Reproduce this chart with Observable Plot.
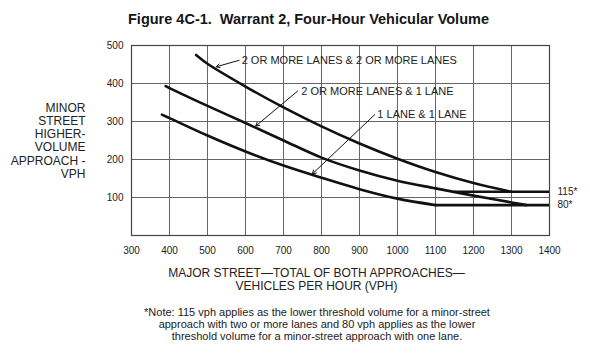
<!DOCTYPE html>
<html>
<head>
<meta charset="utf-8">
<script src="https://cdn.jsdelivr.net/npm/d3@7"></script>
<script src="https://cdn.jsdelivr.net/npm/@observablehq/plot@0.6"></script>
<style>
  html, body { margin: 0; padding: 0; background: #fff; }
  body { width: 590px; height: 358px; position: relative; overflow: hidden; font-family: "Liberation Sans", Arial, sans-serif; color: #111; }
  #title { position: absolute; left: 0; width: 617px; top: 11px; text-align: center; font-weight: bold; font-size: 14.5px; line-height: 16px; color: #151515; }
  #chart { position: absolute; left: 0; top: 35px; }
  #note { position: absolute; left: 67px; width: 500px; top: 306px; text-align: center; font-size: 11px; line-height: 12.2px; color: #222; }
</style>
</head>
<body>
<div id="title">Figure 4C-1.&nbsp; Warrant 2, Four-Hour Vehicular Volume</div>
<div id="chart"></div>
<div id="note">*Note: 115 vph applies as the lower threshold volume for a minor-street<br>approach with two or more lanes and 80 vph applies as the lower<br>threshold volume for a minor-street approach with one lane.</div>
<script>
// ---- data ----
const xTicks = [300, 400, 500, 600, 700, 800, 900, 1000, 1100, 1200, 1300, 1400];
const yTicks = [100, 200, 300, 400, 500];
const yGrid = [0, 100, 200, 300, 400, 500];

// curved parts
const seriesNames = ["2 OR MORE LANES & 2 OR MORE LANES", "2 OR MORE LANES & 1 LANE", "1 LANE & 1 LANE"];

const majorTop = [470, 500, 600, 700, 800, 900, 1000, 1100, 1200, 1300];
const minorTop = [475, 452, 392, 337, 287, 242, 202, 167, 138, 115];

const majorMid = [390, 400, 500, 600, 700, 800, 900, 1000, 1100, 1200, 1300, 1340];
const minorMid = [393, 388, 341, 296, 250, 205, 171, 144, 124, 105, 87, 80];

const majorLow = [380, 400, 500, 600, 700, 800, 900, 1000, 1100];
const minorLow = [318, 309, 263, 221, 184, 152, 122, 97, 80];

// flat threshold lines
const thresholdNames = ["115 vph", "80 vph"];
const thresholdStart = [1150, 1100];
const thresholdEnd = [1400, 1400];
const thresholdValues = [115, 80];
const thresholdLabels = ["115*", "80*"];

// curve labels and their leader arrows (data coordinates)
const labelText = ["2 OR MORE LANES & 2 OR MORE LANES", "2 OR MORE LANES & 1 LANE", "1 LANE & 1 LANE"];
const labelX = [590, 747, 947];
const labelY = [461, 380, 318];
const arrowX1 = [583, 737, 940];
const arrowY1 = [461, 380, 318];
const arrowX2 = [523, 627, 776];
const arrowY2 = [444, 288, 162];

const yTitle = "MINOR\nSTREET\nHIGHER-\nVOLUME\nAPPROACH -\nVPH";
const xTitle = "MAJOR STREET\u2014TOTAL OF BOTH APPROACHES\u2014\nVEHICLES PER HOUR (VPH)";

// ---- build tables ----
const rows = [];
[[majorTop, minorTop], [majorMid, minorMid], [majorLow, minorLow]].forEach(([xs, ys], i) => {
  xs.forEach((x, j) => rows.push({series: seriesNames[i], major: x, minor: ys[j]}));
});
const flats = thresholdNames.map((n, i) => ({n, x1: thresholdStart[i], x2: thresholdEnd[i], v: thresholdValues[i], t: thresholdLabels[i]}));
const labels = labelText.map((t, i) => ({t, x: labelX[i], y: labelY[i], x1: arrowX1[i], y1: arrowY1[i], x2: arrowX2[i], y2: arrowY2[i]}));

const font = "Liberation Sans, Arial, sans-serif";

const chart = Plot.plot({
  width: 590,
  height: 262,
  marginTop: 10,
  marginBottom: 62,
  marginLeft: 131,
  marginRight: 41,
  style: {fontFamily: font, fontSize: "10px", color: "#222", background: "white"},
  x: {domain: [300, 1400], label: null},
  y: {domain: [0, 500], label: null},
  marks: [
    Plot.ruleX(xTicks, {stroke: "#666", strokeWidth: 1}),
    Plot.ruleY(yGrid, {stroke: "#666", strokeWidth: 1}),
    Plot.frame({stroke: "#444", strokeWidth: 1.2}),
    Plot.line(rows, {x: "major", y: "minor", z: "series", curve: "catmull-rom", stroke: "#111", strokeWidth: 2.6}),
    Plot.ruleY(flats, {x1: "x1", x2: "x2", y: "v", stroke: "#111", strokeWidth: 2.6}),
    Plot.arrow(labels, {x1: "x1", y1: "y1", x2: "x2", y2: "y2", stroke: "#111", strokeWidth: 1, headLength: 6, bend: 0}),
    Plot.text(labels, {x: "x", y: "y", text: "t", textAnchor: "start", fontSize: 11, fill: "#222"}),
    Plot.text(flats, {x: "x2", y: "v", text: "t", textAnchor: "start", dx: 8, fontSize: 10, fill: "#222"}),
    Plot.text([yTitle], {frameAnchor: "left", dx: -46, textAnchor: "end", lineHeight: 1.1, fontSize: 12, fill: "#222"}),
    Plot.text([xTitle], {frameAnchor: "bottom", dx: -24, dy: 44, textAnchor: "middle", lineAnchor: "middle", lineHeight: 1.08, fontSize: 12, fill: "#222"}),
    Plot.axisX({ticks: xTicks, tickSize: 0, tickPadding: 11, tickFormat: d => String(d)}),
    Plot.axisY({ticks: yTicks, tickSize: 0, tickPadding: 8, tickFormat: d => String(d)})
  ]
});
document.getElementById("chart").appendChild(chart);
</script>
</body>
</html>
